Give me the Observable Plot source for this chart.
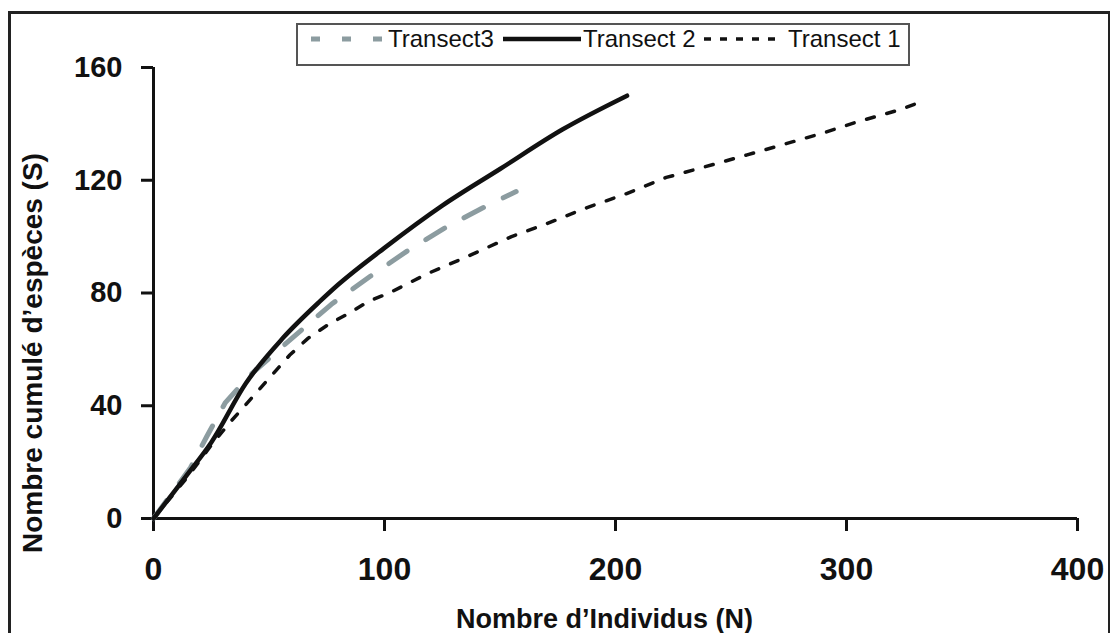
<!DOCTYPE html>
<html><head><meta charset="utf-8">
<script src="https://cdn.jsdelivr.net/npm/d3@7"></script>
<script src="https://cdn.jsdelivr.net/npm/@observablehq/plot@0.6"></script>
<style>
body{margin:0;background:#fff;width:1110px;height:633px;overflow:hidden;position:relative;font-family:"Liberation Sans",Arial,sans-serif;}
#chart{position:absolute;left:0;top:0;}
#frame{position:absolute;left:8px;top:11px;width:1097px;height:700px;border:3px solid #222;pointer-events:none;}
#legend{position:absolute;left:296px;top:23px;width:610px;height:39px;border:2px solid #555;background:#fff;}
</style>
</head><body>
<div id="chart"></div>
<div id="frame"></div>
<div id="legend"></div>
<script>
// ---- data ----
const seriesNames = ["Transect3", "Transect 2", "Transect 1"];
const xTicks = [0, 100, 200, 300, 400];
const yTicks = [0, 40, 80, 120, 160];
const xTitle = "Nombre d’Individus (N)";
const yTitle = "Nombre cumulé d’espèces (S)";

// Transect3 (grey dashed)
const t3x = [0, 16, 23, 31, 42, 60, 77, 94, 110, 126, 142, 157];
const t3y = [0, 18, 29, 41, 51, 64, 76, 86, 95, 103, 110, 116];
// Transect 2 (solid black)
const t2x = [0, 15, 25, 40, 56, 72, 80, 100, 125, 150, 177, 205];
const t2y = [0, 16, 27, 48, 64, 77, 83, 96, 111, 124, 138, 150];
// Transect 1 (dotted black)
const t1x = [0, 15, 25, 33, 46, 59, 67, 76, 85, 93, 102, 119, 136, 155, 170, 188, 204, 222, 238, 257, 271, 290, 305, 323, 333];
const t1y = [0, 15, 26, 34, 46, 58, 64, 69, 73, 77, 80, 87, 93, 100, 104.5, 110.4, 115, 121, 124.6, 129, 132.3, 136.8, 140.8, 145, 148];

const toRows = (xs, ys) => xs.map((x, i) => ({x, y: ys[i]}));
const t3 = toRows(t3x, t3y), t2 = toRows(t2x, t2y), t1 = toRows(t1x, t1y);

const styles = {
  "Transect3": {stroke: "#8c9ca0", width: 5, dash: "22,22", legendDash: "9,22"},
  "Transect 2": {stroke: "#111", width: 4.5, dash: null, legendDash: null},
  "Transect 1": {stroke: "#111", width: 3.5, dash: "8,13", legendDash: "7,9"}
};

const font = "Liberation Sans, Arial, sans-serif";
const chart = Plot.plot({
  width: 1110, height: 633,
  marginLeft: 153, marginRight: 33, marginTop: 67, marginBottom: 115,
  x: {domain: [0, 400]},
  y: {domain: [0, 160]},
  style: {fontFamily: font, background: "transparent", color: "#111"},
  marks: [
    Plot.axisX({ticks: xTicks, tickSize: 13, tickPadding: 26, fontSize: 32, fontWeight: "bold", label: null, strokeWidth: 3, tickFormat: d => String(d)}),
    Plot.axisY({ticks: yTicks, tickSize: 12, tickPadding: 19, fontSize: 29, fontWeight: "bold", label: null, strokeWidth: 3, tickFormat: d => String(d)}),
    Plot.ruleY([0], {x1: 0, x2: 400, stroke: "#111", strokeWidth: 3}),
    Plot.ruleX([0], {y1: 0, y2: 160, stroke: "#111", strokeWidth: 3}),
    Plot.line(t1, {x: "x", y: "y", stroke: styles["Transect 1"].stroke, strokeWidth: styles["Transect 1"].width, strokeDasharray: styles["Transect 1"].dash}),
    Plot.line(t3, {x: "x", y: "y", stroke: styles["Transect3"].stroke, strokeWidth: styles["Transect3"].width, strokeDasharray: styles["Transect3"].dash}),
    Plot.line(t2, {x: "x", y: "y", curve: "monotone-x", stroke: styles["Transect 2"].stroke, strokeWidth: styles["Transect 2"].width}),
    Plot.text([xTitle], {text: d => d, frameAnchor: "bottom", textAnchor: "middle", lineAnchor: "middle", dx: -11, dy: 101, fontSize: 27, fontWeight: "bold", fill: "#111"}),
    Plot.text([yTitle], {text: d => d, frameAnchor: "left", textAnchor: "middle", lineAnchor: "middle", rotate: -90, dx: -120, dy: 60, fontSize: 28, fontWeight: "bold", fill: "#111"})
  ]
});
document.getElementById("chart").appendChild(chart);

// ---- legend ----
const legendPos = [
  {sx1: 13, sx2: 90, tx: 90},
  {sx1: 205, sx2: 283, tx: 285},
  {sx1: 406, sx2: 486, tx: 490}
];
const lsvg = d3.select("#legend").append("svg").attr("width", 610).attr("height", 39).style("display", "block");
seriesNames.forEach((name, i) => {
  const s = styles[name], p = legendPos[i];
  lsvg.append("line").attr("x1", p.sx1).attr("x2", p.sx2).attr("y1", 14).attr("y2", 14)
    .attr("stroke", s.stroke).attr("stroke-width", s.width).attr("stroke-dasharray", s.legendDash);
  lsvg.append("text").attr("x", p.tx).attr("y", 14).attr("dy", "0.35em")
    .attr("font-family", font).attr("font-size", 24).attr("fill", "#111").text(name);
});
</script>
</body></html>
